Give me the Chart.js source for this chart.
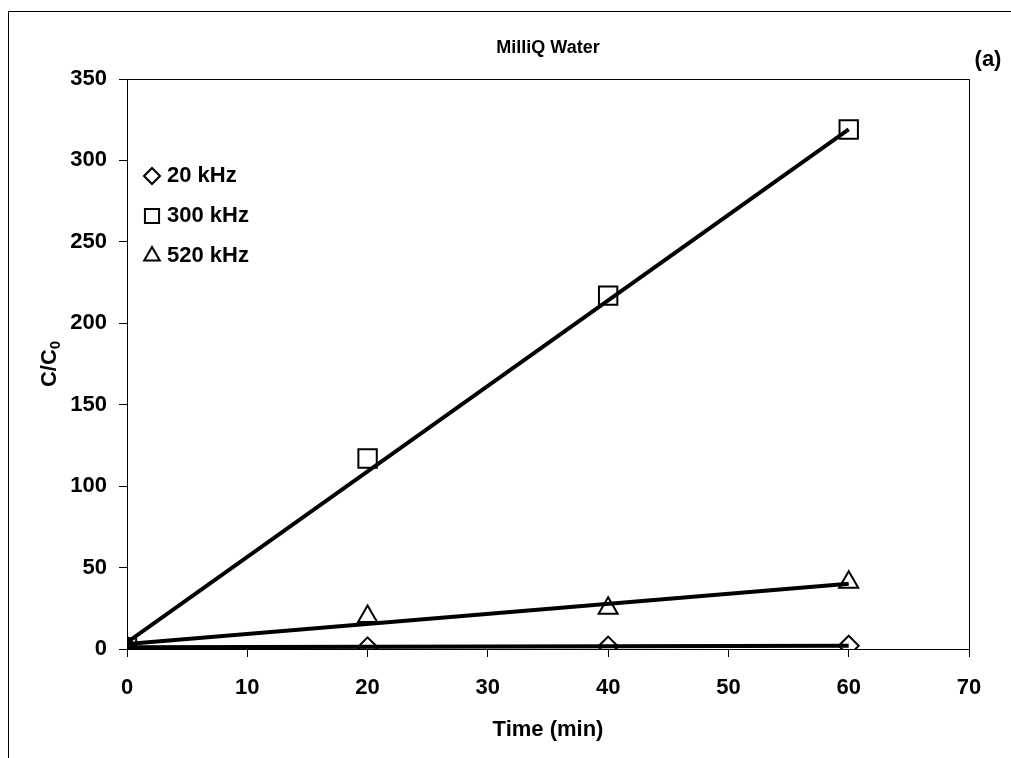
<!DOCTYPE html>
<html>
<head>
<meta charset="utf-8">
<script src="https://cdn.jsdelivr.net/npm/chart.js@4.4.1/dist/chart.umd.min.js"></script>
<style>
  body { margin: 0; background: #fff; }
  canvas { display: block; }
</style>
</head>
<body>
<canvas id="chart" width="1011" height="758"></canvas>
<script>
const times = [0, 20, 40, 60];
const khz20 = [1, 1, 1.5, 2];
const khz300 = [1, 117, 217, 319];
const khz520 = [1, 20, 25, 41];

// linear fits drawn as straight lines between end points
const fitTimes = [0, 60];
const fit20 = [1, 2];
const fit300 = [4, 319];
const fit520 = [3, 40];

const seriesNames = ['20 kHz', '300 kHz', '520 kHz'];
const FONT = '"Liberation Sans", Arial, sans-serif';

const pts = (xs, ys) => xs.map((x, i) => ({ x: x, y: ys[i] }));

function markerSet(label, data, style, radius) {
  return {
    label: label,
    data: pts(times, data),
    showLine: false,
    pointStyle: style,
    pointRadius: radius,
    pointHoverRadius: radius,
    pointBorderColor: '#000',
    pointBackgroundColor: 'rgba(0,0,0,0)',
    pointBorderWidth: 2,
    order: 2
  };
}

function fitSet(data) {
  return {
    label: 'fit',
    data: pts(fitTimes, data),
    showLine: true,
    borderColor: '#000',
    borderWidth: 4,
    pointRadius: 0,
    order: 1
  };
}

const decorations = {
  id: 'decorations',
  afterDraw(chart) {
    const ctx = chart.ctx;
    const a = chart.chartArea;
    ctx.save();
    // outer frame
    ctx.strokeStyle = '#000';
    ctx.lineWidth = 1;
    ctx.strokeRect(8.5, 11.5, 1200, 1000);
    // plot box
    ctx.strokeRect(Math.round(a.left) + 0.5, Math.round(a.top) + 0.5, Math.round(a.right - a.left), Math.round(a.bottom - a.top));

    ctx.fillStyle = '#000';
    ctx.textAlign = 'center';
    ctx.textBaseline = 'middle';
    ctx.font = 'bold 18px ' + FONT;
    ctx.fillText('MilliQ Water', (a.left + a.right) / 2, 48);
    ctx.font = 'bold 22px ' + FONT;
    ctx.fillText('(a)', 988, 60);
    ctx.fillText('Time (min)', (a.left + a.right) / 2, 730);

    // y axis title with subscript
    ctx.save();
    ctx.translate(50, 364);
    ctx.rotate(-Math.PI / 2);
    ctx.font = 'bold 22px ' + FONT;
    const main = 'C/C';
    ctx.font = 'bold 22px ' + FONT;
    const w1 = ctx.measureText(main).width;
    ctx.font = 'bold 15px ' + FONT;
    const w2 = ctx.measureText('0').width;
    const start = -(w1 + w2) / 2;
    ctx.textAlign = 'left';
    ctx.font = 'bold 22px ' + FONT;
    ctx.fillText(main, start, 0);
    ctx.font = 'bold 15px ' + FONT;
    ctx.fillText('0', start + w1, 6);
    ctx.restore();

    // legend
    const legendStyles = [['rectRot', 8], ['rect', 10], ['triangle', 9]];
    const rows = [176, 216, 256];
    ctx.font = 'bold 22px ' + FONT;
    ctx.textAlign = 'left';
    seriesNames.forEach((name, i) => {
      ctx.strokeStyle = '#000';
      ctx.fillStyle = 'rgba(0,0,0,0)';
      ctx.lineWidth = 2;
      Chart.helpers.drawPoint(ctx, { pointStyle: legendStyles[i][0], radius: legendStyles[i][1], borderWidth: 2, rotation: 0 }, 152, rows[i]);
      ctx.fillStyle = '#000';
      ctx.fillText(name, 167, rows[i]);
    });
    ctx.restore();
  }
};

new Chart(document.getElementById('chart'), {
  type: 'scatter',
  data: {
    datasets: [
      markerSet(seriesNames[0], khz20, 'rectRot', 10),
      markerSet(seriesNames[1], khz300, 'rect', 13),
      markerSet(seriesNames[2], khz520, 'triangle', 11),
      fitSet(fit20),
      fitSet(fit300),
      fitSet(fit520)
    ]
  },
  options: {
    responsive: false,
    animation: false,
    layout: { padding: { top: 79, right: 42, left: 0, bottom: 0 } },
    plugins: {
      legend: { display: false },
      title: { display: false },
      tooltip: { enabled: false }
    },
    scales: {
      x: {
        type: 'linear',
        min: 0,
        max: 70,
        afterFit: s => { s.height = 109; },
        border: { color: '#000', width: 1 },
        grid: { drawOnChartArea: false, drawTicks: true, tickLength: 8, color: '#000' },
        ticks: { stepSize: 10, color: '#000', padding: 18, font: { family: FONT, size: 22, weight: 'bold' } }
      },
      y: {
        type: 'linear',
        min: 0,
        max: 350,
        afterFit: s => { s.width = 127; },
        border: { color: '#000', width: 1 },
        grid: { drawOnChartArea: false, drawTicks: true, tickLength: 8, color: '#000' },
        ticks: { stepSize: 50, color: '#000', padding: 12, font: { family: FONT, size: 22, weight: 'bold' } }
      }
    }
  },
  plugins: [decorations]
});
</script>
</body>
</html>
